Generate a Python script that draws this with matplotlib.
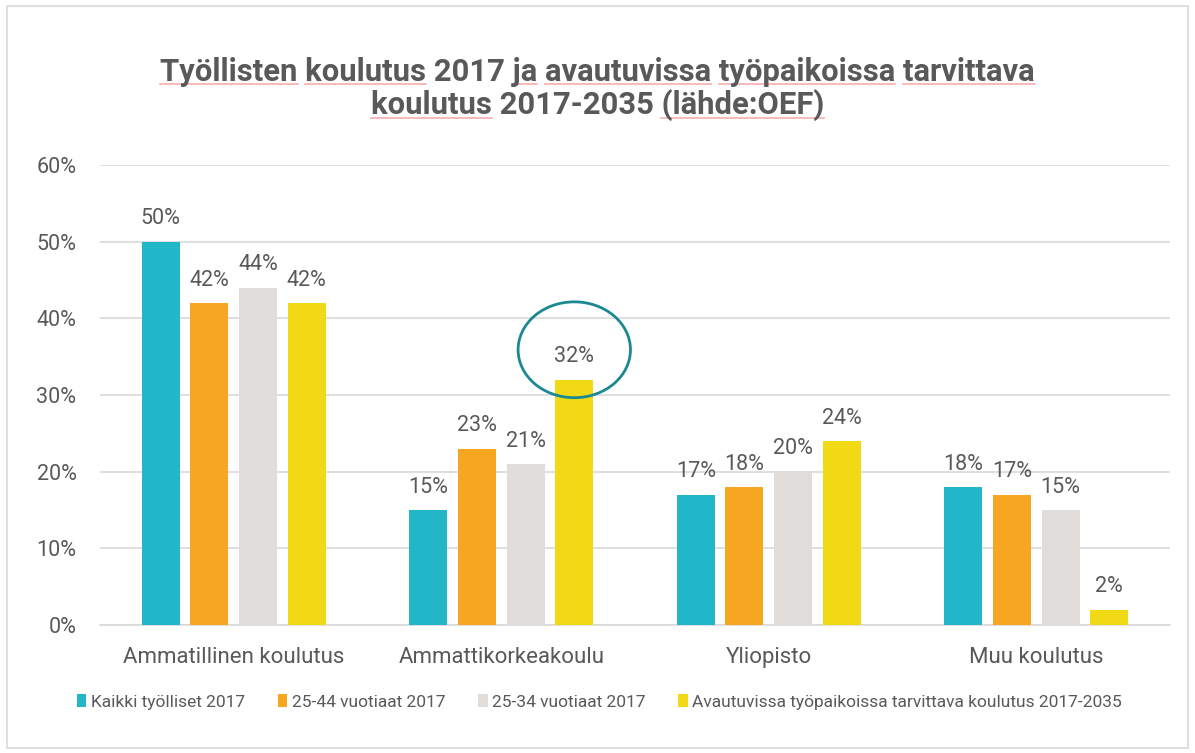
import numpy as np
import matplotlib
matplotlib.use("Agg")
import matplotlib.pyplot as plt
from matplotlib.patches import Ellipse, Rectangle

# Data

categories = ["Ammatillinen koulutus", "Ammattikorkeakoulu", "Yliopisto", "Muu koulutus"]
series_names = ["Kaikki työlliset 2017",
                "25-44 vuotiaat 2017",
                "25-34 vuotiaat 2017",
                "Avautuvissa työpaikoissa tarvittava koulutus 2017-2035"]
kaikki_2017 = [50, 15, 17, 18]
v25_44_2017 = [42, 23, 18, 17]
v25_34_2017 = [44, 21, 20, 15]
avautuvissa = [42, 32, 24, 2]
yticks = [0, 10, 20, 30, 40, 50, 60]
title_lines = ["Työllisten koulutus 2017 ja avautuvissa työpaikoissa tarvittava",
               "koulutus 2017-2035 (lähde:OEF)"]
# words marked by the spell checker in the original
marked = [["Työllisten", "koulutus", "ja", "avautuvissa", "työpaikoissa", "tarvittava"],
          ["koulutus", "(lähde:OEF)"]]

colors = ["#22B6C9", "#F6A621", "#E0DCDA", "#F2D915"]
text_color = "#595959"

plt.rcParams["font.family"] = ["Roboto", "DejaVu Sans"]

fig = plt.figure(figsize=(11.95, 7.53), dpi=100)
fig.patches.append(Rectangle((0.006, 0.007), 0.988, 0.985, transform=fig.transFigure,
                             fill=False, edgecolor="#D9D9D9", lw=1.2))
ax = fig.add_axes([100/1195, 1 - 625/753, 1070/1195, 460/753])

values = [kaikki_2017, v25_44_2017, v25_34_2017, avautuvissa]
x = np.arange(len(categories))
step = 0.182
width = 0.142
for i, (vals, name) in enumerate(zip(values, series_names)):
    pos = x + (i - 1.5) * step
    ax.bar(pos, vals, width=width, color=colors[i], label=name, zorder=3)
    for p, v in zip(pos, vals):
        ax.text(p, v + 1.6, f"{v}%", ha="center", va="bottom",
                fontsize=15.5, color=text_color)

# highlight circle round 32 %
ax.add_patch(Ellipse((1 + 1.5 * step, 35.9), 0.42, 12.5, fill=False,
                     edgecolor="#1B8893", lw=2, zorder=4, clip_on=False))

ax.set_xlim(-0.5, 3.5)
ax.set_ylim(0, 60)
ax.set_yticks(yticks)
ax.set_yticklabels([f"{t}%" for t in yticks])
ax.set_xticks(x)
ax.set_xticklabels(categories)
ax.yaxis.grid(True, color="#D9D9D9", lw=1.2, zorder=0)
ax.set_axisbelow(True)
for s in ["top", "right", "left"]:
    ax.spines[s].set_visible(False)
ax.spines["bottom"].set_color("#D9D9D9")
ax.spines["bottom"].set_linewidth(1.2)
ax.tick_params(axis="both", length=0, labelsize=15.5, labelcolor=text_color)
ax.tick_params(axis="x", pad=16, labelsize=16)
ax.tick_params(axis="y", pad=17)

# Title with spell-check underlines

renderer = fig.canvas.get_renderer()
title_y = [1 - 72/753, 1 - 105/753]
fs = 22.3
for line, ty, words in zip(title_lines, title_y, marked):
    t = fig.text(0.5, ty, line, ha="center", va="center", fontsize=fs,
                 fontweight="bold", color=text_color)
    bb = t.get_window_extent(renderer)
    start = 0
    for w in line.split(" "):
        i0 = line.index(w, start)
        start = i0 + len(w)
        if w not in words:
            continue
        pre = fig.text(0, 0, line[:i0], fontsize=fs, fontweight="bold")
        full = fig.text(0, 0, line[:start], fontsize=fs, fontweight="bold")
        x0 = bb.x0 + (pre.get_window_extent(renderer).width if i0 > 0 else 0)
        x1 = bb.x0 + full.get_window_extent(renderer).width
        pre.remove()
        full.remove()
        yy = bb.y0 + 3
        fig.add_artist(plt.Line2D([x0 / fig.bbox.width, x1 / fig.bbox.width],
                                  [yy / fig.bbox.height] * 2,
                                  transform=fig.transFigure, color="#F5AFAF", lw=1.2))

leg = fig.legend(loc="center left", bbox_to_anchor=(61/1195, 1 - 702/753), ncol=4,
                 frameon=False, fontsize=12.5, handlelength=0.55, handleheight=0.7,
                 handletextpad=0.25, columnspacing=1.9, labelcolor=text_color)

fig.savefig("out.png", dpi=100)
